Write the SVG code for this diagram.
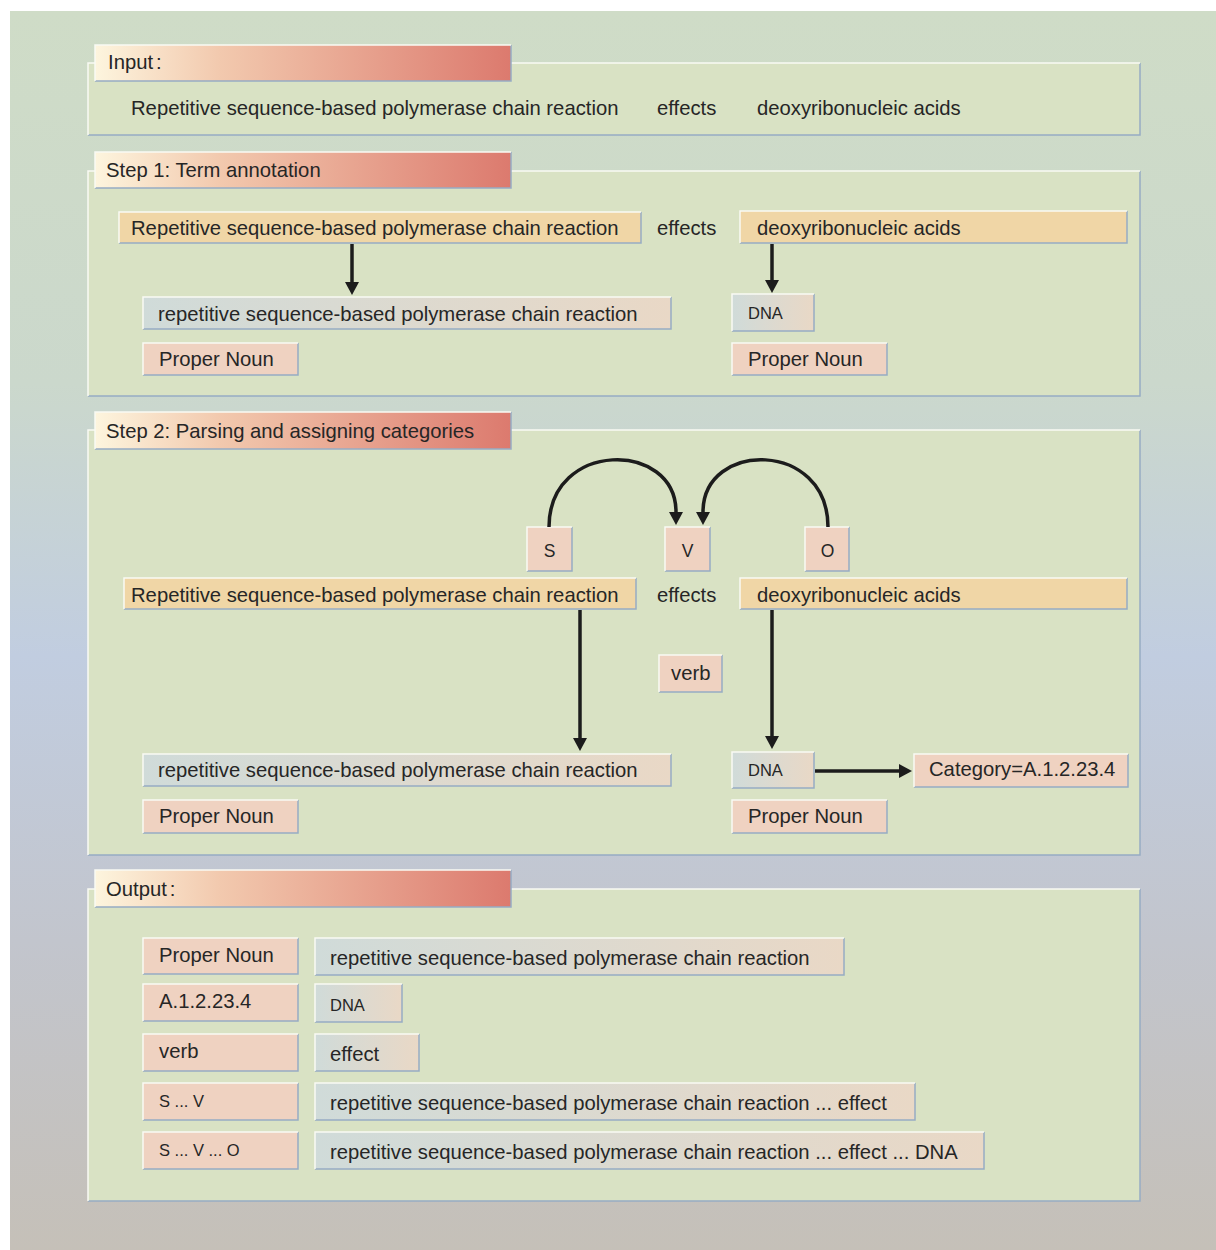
<svg xmlns="http://www.w3.org/2000/svg" width="1216" height="1250" viewBox="0 0 1216 1250">
<defs>
<linearGradient id="bgg" x1="0" y1="0" x2="0" y2="1">
<stop offset="0" stop-color="#cfdcc7"/>
<stop offset="0.3" stop-color="#cbd8cc"/>
<stop offset="0.52" stop-color="#c1cde0"/>
<stop offset="0.75" stop-color="#c2c5cd"/>
<stop offset="1" stop-color="#c5c0b8"/>
</linearGradient>
<linearGradient id="tabg" x1="0" y1="0" x2="1" y2="0">
<stop offset="0" stop-color="#fdf5de"/>
<stop offset="0.3" stop-color="#f2c9ae"/>
<stop offset="1" stop-color="#dc7a6e"/>
</linearGradient>
<linearGradient id="grg" x1="0" y1="0" x2="1" y2="0">
<stop offset="0" stop-color="#d0dbd9"/>
<stop offset="1" stop-color="#e9d8c6"/>
</linearGradient>
<marker id="ah" markerUnits="userSpaceOnUse" markerWidth="14" markerHeight="14" refX="0" refY="7" orient="auto" overflow="visible">
<path d="M0,0 L13,7 L0,14 z" fill="#1c1c1c"/>
</marker>
<style>
.pnl{fill:#d9e2c4}
.tab{fill:url(#tabg)}
.or{fill:#f0d6a6}
.sa{fill:#efd2c1}
.gr{fill:url(#grg)}
.hl{fill:none;stroke:#f9faf4;stroke-width:1.5}
.sh{fill:none;stroke:#97acc3;stroke-width:1.5}
.t{font-family:"Liberation Sans",Arial,Helvetica,sans-serif;font-size:20.25px;fill:#262626}
.ts{font-size:16.5px}
.tl{font-size:17.5px}
.cn{stroke:#1c1c1c;stroke-width:3.5;fill:none;marker-end:url(#ah)}
</style>
</defs>
<rect x="10" y="11" width="1206" height="1239" fill="url(#bgg)"/>

<g id="panel-input">
<rect class="pnl" x="88" y="63" width="1052" height="72"/>
<path class="sh" d="M1140,63 V135 H88"/><path class="hl" d="M88,135 V63 H1140"/>
</g>
<g id="panel-step1">
<rect class="pnl" x="88" y="171" width="1052" height="225"/>
<path class="sh" d="M1140,171 V396 H88"/><path class="hl" d="M88,396 V171 H1140"/>
</g>
<g id="panel-step2">
<rect class="pnl" x="88" y="430" width="1052" height="425"/>
<path class="sh" d="M1140,430 V855 H88"/><path class="hl" d="M88,855 V430 H1140"/>
</g>
<g id="panel-output">
<rect class="pnl" x="88" y="889" width="1052" height="312"/>
<path class="sh" d="M1140,889 V1201 H88"/><path class="hl" d="M88,1201 V889 H1140"/>
</g>

<g id="tab-input">
<rect class="tab" x="95" y="45" width="416" height="36"/>
<path class="sh" d="M511,45 V81 H95"/><path class="hl" d="M95,81 V45 H511"/>
<text class="t" x="108" y="69">Input<tspan dx="3">:</tspan></text>
</g>
<g id="tab-step1">
<rect class="tab" x="95" y="152" width="416" height="36"/>
<path class="sh" d="M511,152 V188 H95"/><path class="hl" d="M95,188 V152 H511"/>
<text class="t" x="106" y="177">Step 1: Term annotation</text>
</g>
<g id="tab-step2">
<rect class="tab" x="95" y="412" width="416" height="37"/>
<path class="sh" d="M511,412 V449 H95"/><path class="hl" d="M95,449 V412 H511"/>
<text class="t" x="106" y="438">Step 2: Parsing and assigning categories</text>
</g>
<g id="tab-output">
<rect class="tab" x="95" y="870" width="416" height="37"/>
<path class="sh" d="M511,870 V907 H95"/><path class="hl" d="M95,907 V870 H511"/>
<text class="t" x="106" y="896">Output<tspan dx="3">:</tspan></text>
</g>

<g id="input-text">
<text class="t" x="131" y="115">Repetitive sequence-based polymerase chain reaction</text>
<text class="t" x="657" y="115">effects</text>
<text class="t" x="757" y="115">deoxyribonucleic acids</text>
</g>

<g id="s1-term1">
<rect class="or" x="119" y="212" width="522" height="31"/>
<path class="sh" d="M641,212 V243 H119"/><path class="hl" d="M119,243 V212 H641"/>
<text class="t" x="131" y="235">Repetitive sequence-based polymerase chain reaction</text>
</g>
<g id="s1-effects"><text class="t" x="657" y="235">effects</text></g>
<g id="s1-term2">
<rect class="or" x="740" y="211" width="387" height="32"/>
<path class="sh" d="M1127,211 V243 H740"/><path class="hl" d="M740,243 V211 H1127"/>
<text class="t" x="757" y="235">deoxyribonucleic acids</text>
</g>
<g id="s1-norm1">
<rect class="gr" x="143" y="297" width="528" height="32"/>
<path class="sh" d="M671,297 V329 H143"/><path class="hl" d="M143,329 V297 H671"/>
<text class="t" x="158" y="321">repetitive sequence-based polymerase chain reaction</text>
</g>
<g id="s1-pn1">
<rect class="sa" x="143" y="343" width="155" height="32"/>
<path class="sh" d="M298,343 V375 H143"/><path class="hl" d="M143,375 V343 H298"/>
<text class="t" x="159" y="366">Proper Noun</text>
</g>
<g id="s1-dna">
<rect class="gr" x="732" y="294" width="82" height="37"/>
<path class="sh" d="M814,294 V331 H732"/><path class="hl" d="M732,331 V294 H814"/>
<text class="t ts" x="748" y="319">DNA</text>
</g>
<g id="s1-pn2">
<rect class="sa" x="732" y="343" width="155" height="32"/>
<path class="sh" d="M887,343 V375 H732"/><path class="hl" d="M732,375 V343 H887"/>
<text class="t" x="748" y="366">Proper Noun</text>
</g>

<g id="s2-S">
<rect class="sa" x="527" y="527" width="45" height="44"/>
<path class="sh" d="M572,527 V571 H527"/><path class="hl" d="M527,571 V527 H572"/>
<text class="t tl" x="549.5" y="557" text-anchor="middle">S</text>
</g>
<g id="s2-V">
<rect class="sa" x="665" y="527" width="45" height="44"/>
<path class="sh" d="M710,527 V571 H665"/><path class="hl" d="M665,571 V527 H710"/>
<text class="t tl" x="687.5" y="557" text-anchor="middle">V</text>
</g>
<g id="s2-O">
<rect class="sa" x="805" y="527" width="44" height="44"/>
<path class="sh" d="M849,527 V571 H805"/><path class="hl" d="M805,571 V527 H849"/>
<text class="t tl" x="827.5" y="557" text-anchor="middle">O</text>
</g>
<g id="s2-term1">
<rect class="or" x="124" y="578" width="512" height="31"/>
<path class="sh" d="M636,578 V609 H124"/><path class="hl" d="M124,609 V578 H636"/>
<text class="t" x="131" y="602">Repetitive sequence-based polymerase chain reaction</text>
</g>
<g id="s2-effects"><text class="t" x="657" y="602">effects</text></g>
<g id="s2-term2">
<rect class="or" x="740" y="578" width="387" height="31"/>
<path class="sh" d="M1127,578 V609 H740"/><path class="hl" d="M740,609 V578 H1127"/>
<text class="t" x="757" y="602">deoxyribonucleic acids</text>
</g>
<g id="s2-verb">
<rect class="sa" x="659" y="655" width="63" height="37"/>
<path class="sh" d="M722,655 V692 H659"/><path class="hl" d="M659,692 V655 H722"/>
<text class="t" x="671" y="680">verb</text>
</g>
<g id="s2-norm1">
<rect class="gr" x="143" y="754" width="528" height="32"/>
<path class="sh" d="M671,754 V786 H143"/><path class="hl" d="M143,786 V754 H671"/>
<text class="t" x="158" y="777">repetitive sequence-based polymerase chain reaction</text>
</g>
<g id="s2-pn1">
<rect class="sa" x="143" y="800" width="155" height="33"/>
<path class="sh" d="M298,800 V833 H143"/><path class="hl" d="M143,833 V800 H298"/>
<text class="t" x="159" y="823">Proper Noun</text>
</g>
<g id="s2-dna">
<rect class="gr" x="732" y="752" width="82" height="36"/>
<path class="sh" d="M814,752 V788 H732"/><path class="hl" d="M732,788 V752 H814"/>
<text class="t ts" x="748" y="776">DNA</text>
</g>
<g id="s2-category">
<rect class="sa" x="914" y="754" width="214" height="33"/>
<path class="sh" d="M1128,754 V787 H914"/><path class="hl" d="M914,787 V754 H1128"/>
<text class="t" x="929" y="776">Category=A.1.2.23.4</text>
</g>
<g id="s2-pn2">
<rect class="sa" x="732" y="800" width="155" height="33"/>
<path class="sh" d="M887,800 V833 H732"/><path class="hl" d="M732,833 V800 H887"/>
<text class="t" x="748" y="823">Proper Noun</text>
</g>

<g id="out-r1a">
<rect class="sa" x="143" y="938" width="155" height="36"/>
<path class="sh" d="M298,938 V974 H143"/><path class="hl" d="M143,974 V938 H298"/>
<text class="t" x="159" y="962">Proper Noun</text>
</g>
<g id="out-r1b">
<rect class="gr" x="315" y="938" width="529" height="37"/>
<path class="sh" d="M844,938 V975 H315"/><path class="hl" d="M315,975 V938 H844"/>
<text class="t" x="330" y="965">repetitive sequence-based polymerase chain reaction</text>
</g>
<g id="out-r2a">
<rect class="sa" x="143" y="984" width="155" height="37"/>
<path class="sh" d="M298,984 V1021 H143"/><path class="hl" d="M143,1021 V984 H298"/>
<text class="t" x="159" y="1008">A.1.2.23.4</text>
</g>
<g id="out-r2b">
<rect class="gr" x="315" y="984" width="87" height="38"/>
<path class="sh" d="M402,984 V1022 H315"/><path class="hl" d="M315,1022 V984 H402"/>
<text class="t ts" x="330" y="1011">DNA</text>
</g>
<g id="out-r3a">
<rect class="sa" x="143" y="1034" width="155" height="37"/>
<path class="sh" d="M298,1034 V1071 H143"/><path class="hl" d="M143,1071 V1034 H298"/>
<text class="t" x="159" y="1058">verb</text>
</g>
<g id="out-r3b">
<rect class="gr" x="315" y="1034" width="104" height="37"/>
<path class="sh" d="M419,1034 V1071 H315"/><path class="hl" d="M315,1071 V1034 H419"/>
<text class="t" x="330" y="1061">effect</text>
</g>
<g id="out-r4a">
<rect class="sa" x="143" y="1083" width="155" height="37"/>
<path class="sh" d="M298,1083 V1120 H143"/><path class="hl" d="M143,1120 V1083 H298"/>
<text class="t ts" x="159" y="1107">S ... V</text>
</g>
<g id="out-r4b">
<rect class="gr" x="315" y="1083" width="600" height="37"/>
<path class="sh" d="M915,1083 V1120 H315"/><path class="hl" d="M315,1120 V1083 H915"/>
<text class="t" x="330" y="1110">repetitive sequence-based polymerase chain reaction ... effect</text>
</g>
<g id="out-r5a">
<rect class="sa" x="143" y="1132" width="155" height="37"/>
<path class="sh" d="M298,1132 V1169 H143"/><path class="hl" d="M143,1169 V1132 H298"/>
<text class="t ts" x="159" y="1156">S ... V ... O</text>
</g>
<g id="out-r5b">
<rect class="gr" x="315" y="1132" width="669" height="37"/>
<path class="sh" d="M984,1132 V1169 H315"/><path class="hl" d="M315,1169 V1132 H984"/>
<text class="t" x="330" y="1159">repetitive sequence-based polymerase chain reaction ... effect ... DNA</text>
</g>

<g id="connectors">
<path class="cn" d="M352,244 V282"/>
<path class="cn" d="M772,244 V280"/>
<path class="cn" d="M549,527 C549,440 676,440 676,512"/>
<path class="cn" d="M828,527 C828,440 703,440 703,512"/>
<path class="cn" d="M580,610 V738"/>
<path class="cn" d="M772,610 V736"/>
<path class="cn" d="M815,771 H899"/>
</g>
</svg>
